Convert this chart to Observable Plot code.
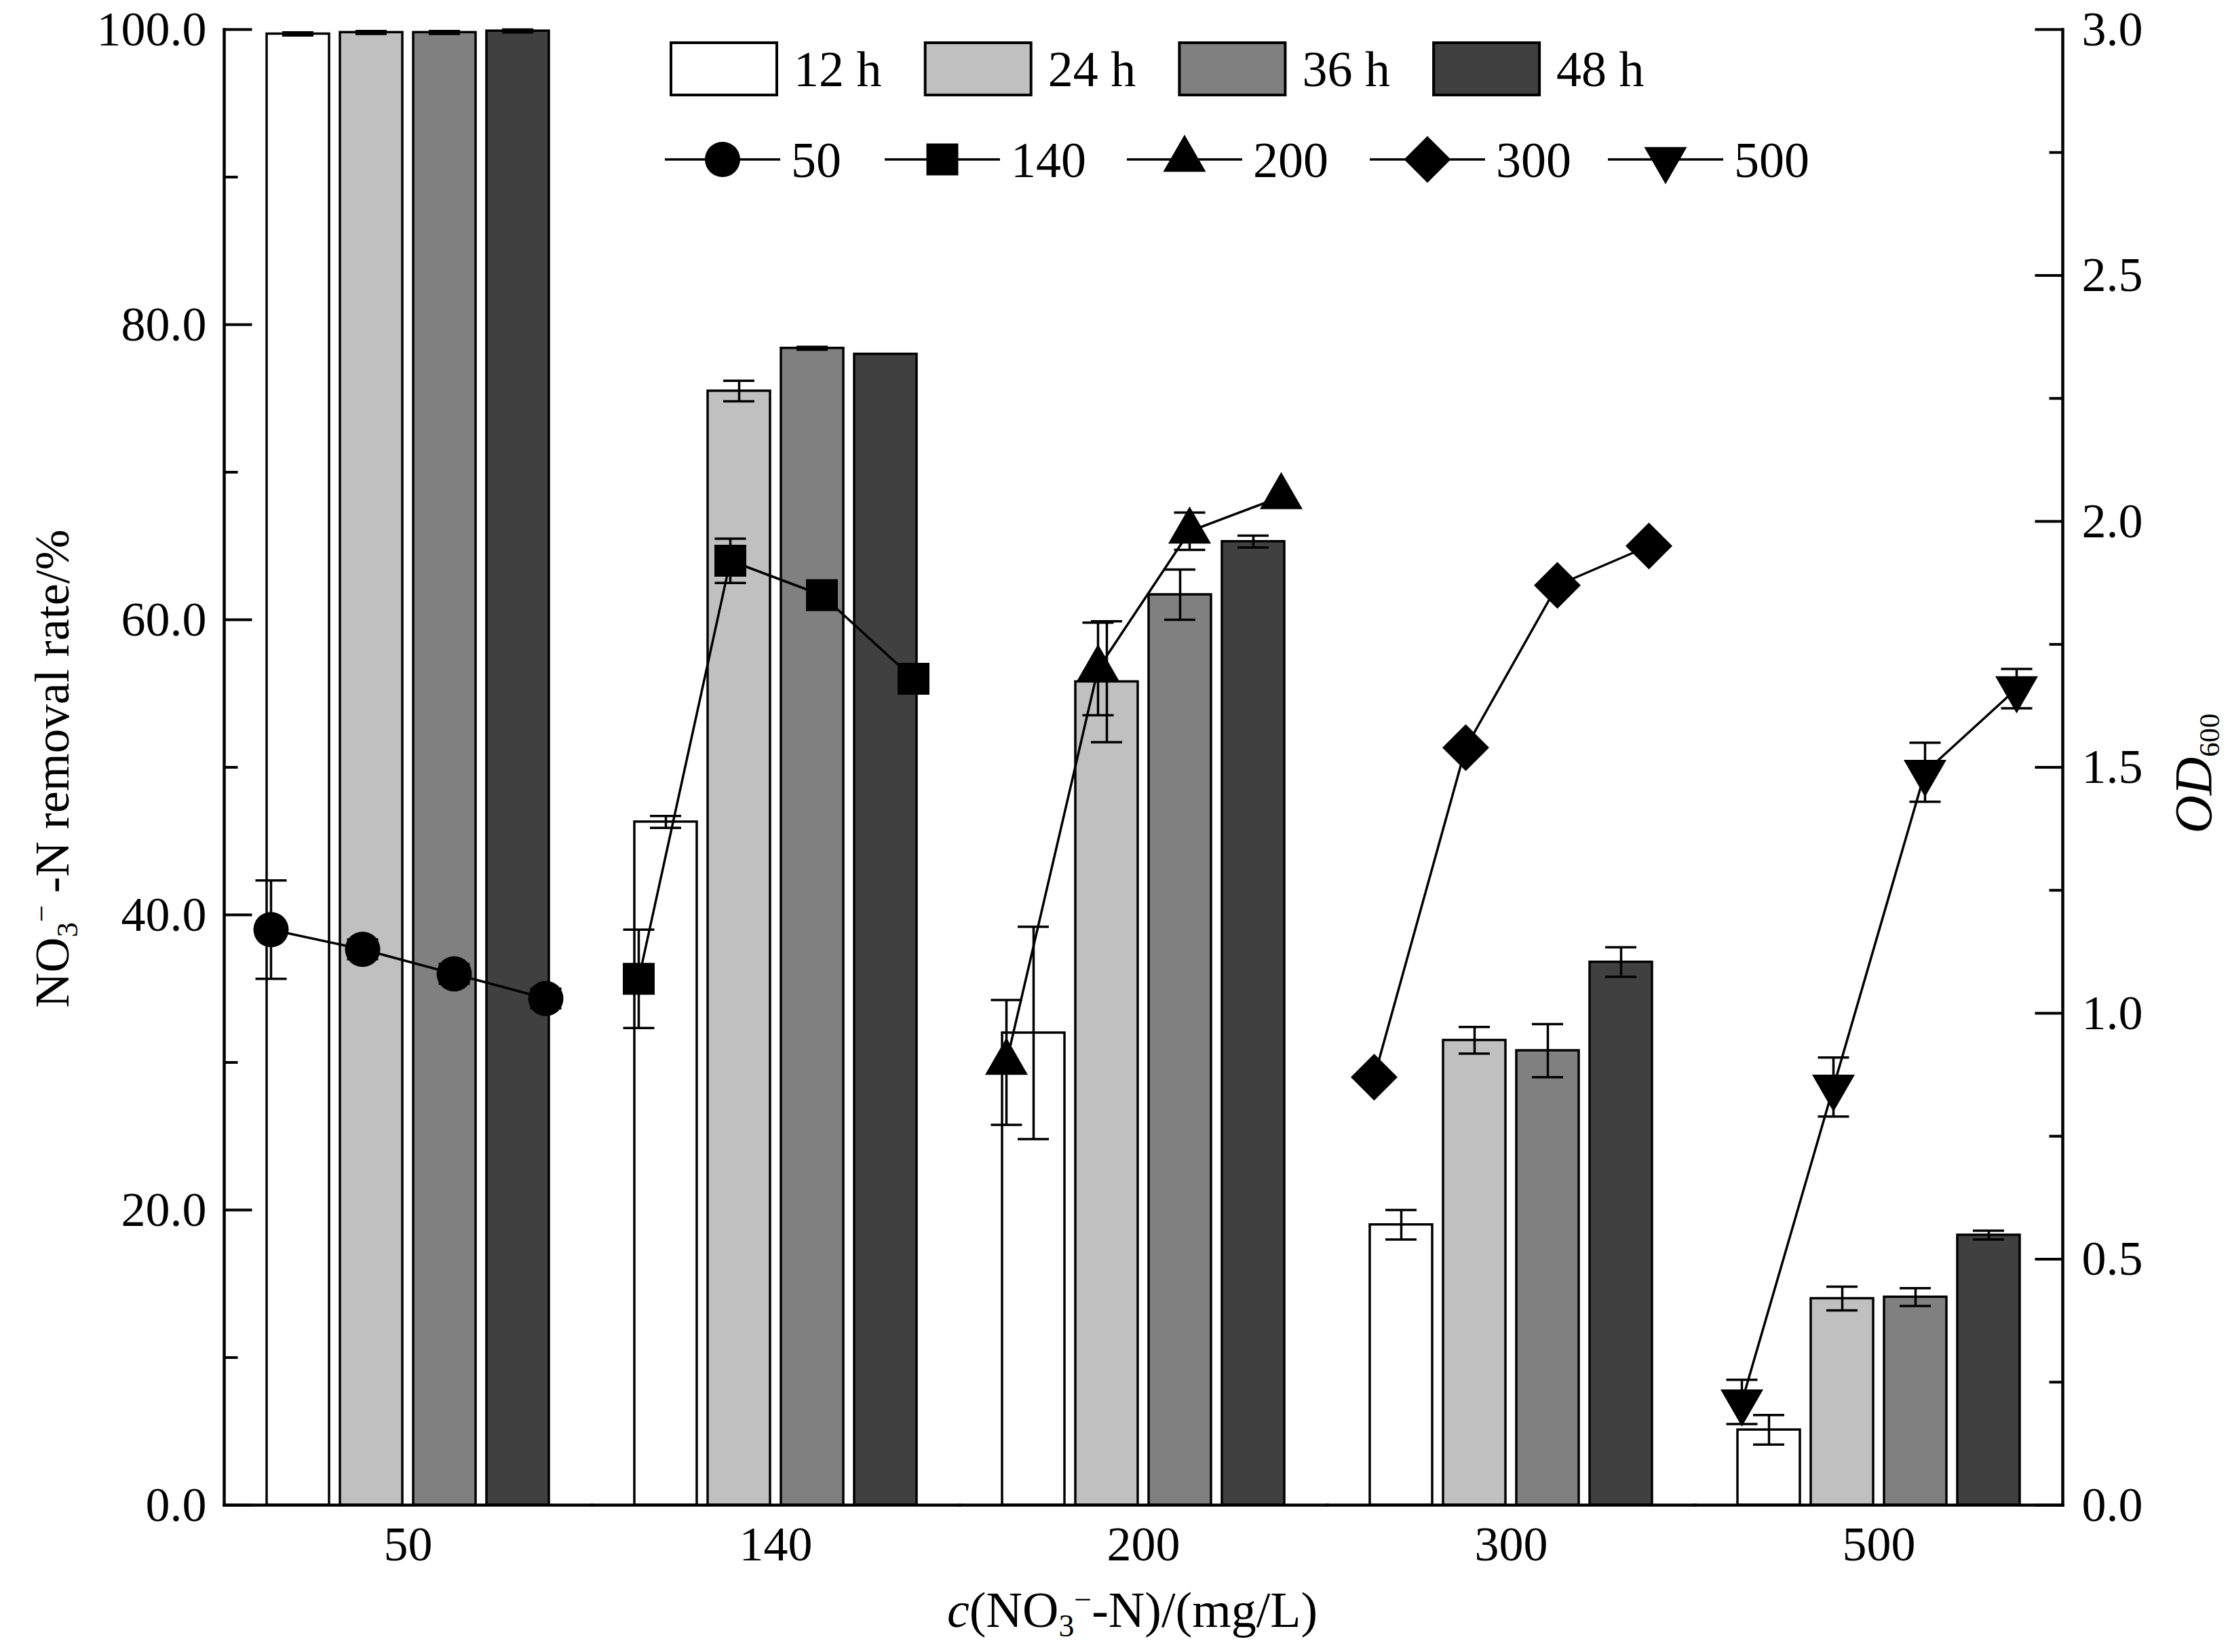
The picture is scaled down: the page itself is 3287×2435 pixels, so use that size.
<!DOCTYPE html>
<html>
<head>
<meta charset="utf-8">
<script src="https://cdn.jsdelivr.net/npm/d3@7"></script>
<script src="https://cdn.jsdelivr.net/npm/@observablehq/plot@0.6"></script>
<style>
html, body { margin: 0; padding: 0; background: #fff; }
#wrap { position: relative; width: 3287px; height: 2435px; overflow: hidden;
  font-family: "Liberation Serif", "Times New Roman", serif; color: #000; }
#wrap > svg { position: absolute; left: 0; top: 0; }
.lab { position: absolute; white-space: nowrap; line-height: 1; transform-origin: center center; }
.sub { font-size: 0.62em; position: relative; top: 0.3em; }
.sup { font-size: 0.62em; position: relative; top: -0.55em; }
.sub2 { font-size: 0.55em; position: relative; top: 0.28em; }
</style>
</head>
<body>
<div id="wrap"></div>
<script>
// ---------------- data ----------------
const groups = ["50", "140", "200", "300", "500"];
const times = ["12 h", "24 h", "36 h", "48 h"];

// NO3--N removal rate (%) per sampling time, one value per initial concentration group
const rate12h = [99.7, 46.3, 32.0, 19.0, 5.1];
const rate24h = [99.8, 75.5, 55.8, 31.5, 14.0];
const rate36h = [99.8, 78.4, 61.7, 30.8, 14.1];
const rate48h = [99.9, 78.0, 65.3, 36.8, 18.3];
const rateErr12h = [0.1, 0.4, 7.2, 1.0, 1.0];
const rateErr24h = [0.1, 0.7, 4.1, 0.9, 0.8];
const rateErr36h = [0.1, 0.1, 1.7, 1.8, 0.6];
const rateErr48h = [0.1, 0.0, 0.4, 1.0, 0.3];

// OD600 per group at 12, 24, 36, 48 h
const od50  = [1.17, 1.13, 1.08, 1.03];
const od140 = [1.07, 1.92, 1.85, 1.68];
const od200 = [0.90, 1.70, 1.98, 2.05];
const od300 = [0.87, 1.54, 1.87, 1.95];
const od500 = [0.21, 0.85, 1.49, 1.66];
const odErr50  = [0.10, 0.02, 0.02, 0.02];
const odErr140 = [0.10, 0.045, 0.02, 0.0];
const odErr200 = [0.127, 0.094, 0.038, 0.0];
const odErr300 = [0.0, 0.0, 0.0, 0.0];
const odErr500 = [0.045, 0.06, 0.06, 0.04];

const rateTicksMajor = [0, 20, 40, 60, 80, 100];
const rateTicksMinor = [10, 30, 50, 70, 90];
const odTicksMajor = [0, 0.5, 1.0, 1.5, 2.0, 2.5, 3.0];
const odTicksMinor = [0.25, 0.75, 1.25, 1.75, 2.25, 2.75];

// ---------------- tables ----------------
const rateArrs = [rate12h, rate24h, rate36h, rate48h];
const rateErrArrs = [rateErr12h, rateErr24h, rateErr36h, rateErr48h];
const barRows = [];
groups.forEach((g, i) => times.forEach((t, j) => {
  barRows.push({group: g, time: t, rate: rateArrs[j][i], err: rateErrArrs[j][i]});
}));
const barErrRows = barRows.filter(d => d.err > 0);

const odArrs = [od50, od140, od200, od300, od500];
const odErrArrs = [odErr50, odErr140, odErr200, odErr300, odErr500];
const odRows = [];
groups.forEach((g, i) => times.forEach((t, j) => {
  odRows.push({group: g, time: t, od: odArrs[i][j], err: odErrArrs[i][j]});
}));
const odErrRows = odRows.filter(d => d.err > 0);

// ---------------- style ----------------
const W = 3287, H = 2435;
const M = {left: 330, right: 247, top: 43, bottom: 217};
const FONT = '"Liberation Serif", "Times New Roman", serif';
const fills = ["#ffffff", "#c0c0c0", "#808080", "#404040"];
const SW = 3.5;

// custom symbols
const rLen = L => L / Math.sqrt(Math.PI);               // r such that sqrt(pi r^2) = L
const tickRight = {draw(c, s) { const L = Math.sqrt(s); c.moveTo(0, 0); c.lineTo(L, 0); }};
const tickLeft  = {draw(c, s) { const L = Math.sqrt(s); c.moveTo(0, 0); c.lineTo(-L, 0); }};
const capSym    = {draw(c, s) { const w = Math.sqrt(s) / 2; c.moveTo(-w, 0); c.lineTo(w, 0); }};
const triDown   = {draw(c, s) {
  const y = -Math.sqrt(s / (3 * Math.sqrt(3)));
  c.moveTo(0, -y * 2); c.lineTo(-Math.sqrt(3) * y, y); c.lineTo(Math.sqrt(3) * y, y); c.closePath();
}};
const seriesSymbols = [
  {symbol: "circle", r: 26},
  {symbol: "square", r: 26.5},
  {symbol: "triangle", r: 23.4},
  {symbol: "diamond2", r: 31.1},
  {symbol: triDown, r: 23.4}
];

const wrap = document.getElementById("wrap");

// ---------------- bars (left axis) ----------------
const plotA = Plot.plot({
  width: W, height: H,
  marginLeft: M.left, marginRight: M.right, marginTop: M.top, marginBottom: M.bottom,
  style: {fontFamily: FONT, fontSize: "72px", background: "white", color: "black"},
  fx: {domain: groups, padding: 0, axis: null, label: null},
  x: {domain: times, paddingInner: 0.145, paddingOuter: 0.575, axis: null},
  y: {domain: [0, 100], axis: null},
  color: {domain: times, range: fills},
  marks: [
    Plot.barY(barRows, {fx: "group", x: "time", y: "rate", fill: "time", stroke: "black", strokeWidth: SW}),
    Plot.ruleX(barErrRows, {fx: "group", x: "time", y1: d => d.rate - d.err, y2: d => d.rate + d.err, stroke: "black", strokeWidth: SW}),
    Plot.tickY(barErrRows, {fx: "group", x: "time", y: d => d.rate + d.err, inset: 23, stroke: "black", strokeWidth: SW}),
    Plot.tickY(barErrRows, {fx: "group", x: "time", y: d => d.rate - d.err, inset: 23, stroke: "black", strokeWidth: SW}),
    Plot.frame({anchor: "bottom", stroke: "black", strokeWidth: 4.5}),
    Plot.frame({anchor: "left", facetAnchor: "left", stroke: "black", strokeWidth: 4.5}),
    Plot.dot(rateTicksMajor, {y: d => d, frameAnchor: "left", facetAnchor: "left", symbol: tickRight, r: rLen(41), stroke: "black", fill: "none", strokeWidth: 4}),
    Plot.dot(rateTicksMinor, {y: d => d, frameAnchor: "left", facetAnchor: "left", symbol: tickRight, r: rLen(20), stroke: "black", fill: "none", strokeWidth: 4}),
    Plot.axisY({anchor: "left", ticks: rateTicksMajor, tickFormat: d => d.toFixed(1), tickSize: 0, tickPadding: 26, label: null}),
    Plot.axisFx({anchor: "bottom", tickSize: 0, tickPadding: 30, label: null})
  ]
});
wrap.appendChild(plotA);

// ---------------- OD600 lines (right axis) ----------------
const markerMarks = groups.map((g, i) => Plot.dot(odRows.filter(d => d.group === g), {
  fx: "group", x: "time", y: "od", symbol: seriesSymbols[i].symbol, r: seriesSymbols[i].r, fill: "black", stroke: "none"
}));

const plotB = Plot.plot({
  width: W, height: H,
  marginLeft: M.left, marginRight: M.right, marginTop: M.top, marginBottom: M.bottom,
  style: {fontFamily: FONT, fontSize: "72px", background: "none", color: "black", overflow: "visible"},
  fx: {domain: groups, padding: 0, axis: null, label: null},
  x: {type: "point", domain: times, padding: 0.5, axis: null},
  y: {domain: [0, 3], axis: null},
  marks: [
    Plot.frame({anchor: "right", facetAnchor: "right", stroke: "black", strokeWidth: 4.5}),
    Plot.dot(odTicksMajor, {y: d => d, frameAnchor: "right", facetAnchor: "right", symbol: tickLeft, r: rLen(41), stroke: "black", fill: "none", strokeWidth: 4}),
    Plot.dot(odTicksMinor, {y: d => d, frameAnchor: "right", facetAnchor: "right", symbol: tickLeft, r: rLen(20), stroke: "black", fill: "none", strokeWidth: 4}),
    Plot.axisY({anchor: "right", ticks: odTicksMajor, tickFormat: d => d.toFixed(1), tickSize: 0, tickPadding: 28, label: null}),
    Plot.ruleX(odErrRows, {fx: "group", x: "time", y1: d => d.od - d.err, y2: d => d.od + d.err, stroke: "black", strokeWidth: SW}),
    Plot.dot(odErrRows, {fx: "group", x: "time", y: d => d.od + d.err, symbol: capSym, r: rLen(46), stroke: "black", fill: "none", strokeWidth: SW}),
    Plot.dot(odErrRows, {fx: "group", x: "time", y: d => d.od - d.err, symbol: capSym, r: rLen(46), stroke: "black", fill: "none", strokeWidth: SW}),
    Plot.line(odRows, {fx: "group", x: "time", y: "od", stroke: "black", strokeWidth: SW}),
    ...markerMarks
  ]
});
wrap.appendChild(plotB);

// ---------------- legend ----------------
const leg = d3.select(wrap).append("svg")
  .attr("width", W).attr("height", 320)
  .style("font-family", FONT).style("font-size", "74px");

const sw0 = 989, swStep = 374.7, swW = 156, swH = 77, swTop = 63;
times.forEach((t, j) => {
  const x = sw0 + j * swStep;
  leg.append("rect").attr("x", x).attr("y", swTop).attr("width", swW).attr("height", swH)
    .attr("fill", fills[j]).attr("stroke", "black").attr("stroke-width", 4);
  leg.append("text").attr("x", x + swW + 25).attr("y", swTop + swH / 2).attr("dy", "0.35em").text(t);
});

const lineStarts = [980, 1304, 1661, 2019, 2370];
const lineLen = 170, lineY = 235;
groups.forEach((g, i) => {
  const x = lineStarts[i];
  leg.append("line").attr("x1", x).attr("x2", x + lineLen).attr("y1", lineY).attr("y2", lineY)
    .attr("stroke", "black").attr("stroke-width", SW);
  const s = seriesSymbols[i];
  const type = typeof s.symbol === "string"
    ? {circle: d3.symbolCircle, square: d3.symbolSquare, triangle: d3.symbolTriangle, diamond2: d3.symbolDiamond2}[s.symbol]
    : s.symbol;
  leg.append("path").attr("transform", `translate(${x + lineLen / 2},${lineY})`)
    .attr("d", d3.symbol(type, Math.PI * s.r * s.r)()).attr("fill", "black");
  leg.append("text").attr("x", x + lineLen + 16).attr("y", lineY).attr("dy", "0.35em").text(g);
});

// ---------------- axis titles ----------------
function addLabel(html, cx, cy, size, rotate) {
  const d = document.createElement("div");
  d.className = "lab";
  d.style.fontSize = size + "px";
  d.innerHTML = html;
  wrap.appendChild(d);
  const w = d.offsetWidth, h = d.offsetHeight;
  d.style.left = (cx - w / 2) + "px";
  d.style.top = (cy - h / 2) + "px";
  if (rotate) d.style.transform = `rotate(${rotate}deg)`;
}
addLabel('NO<span class="sub">3</span><span class="sup">−</span> -N removal rate/%', 76, 1133, 72, -90);
addLabel('<i>c</i>(NO<span class="sub">3</span><span class="sup">−</span>-N)/(mg/L)', 1669, 2373, 74, 0);
addLabel('<i>OD</i><span class="sub2">600</span>', 3232, 1140, 78, -90);
</script>
</body>
</html>
